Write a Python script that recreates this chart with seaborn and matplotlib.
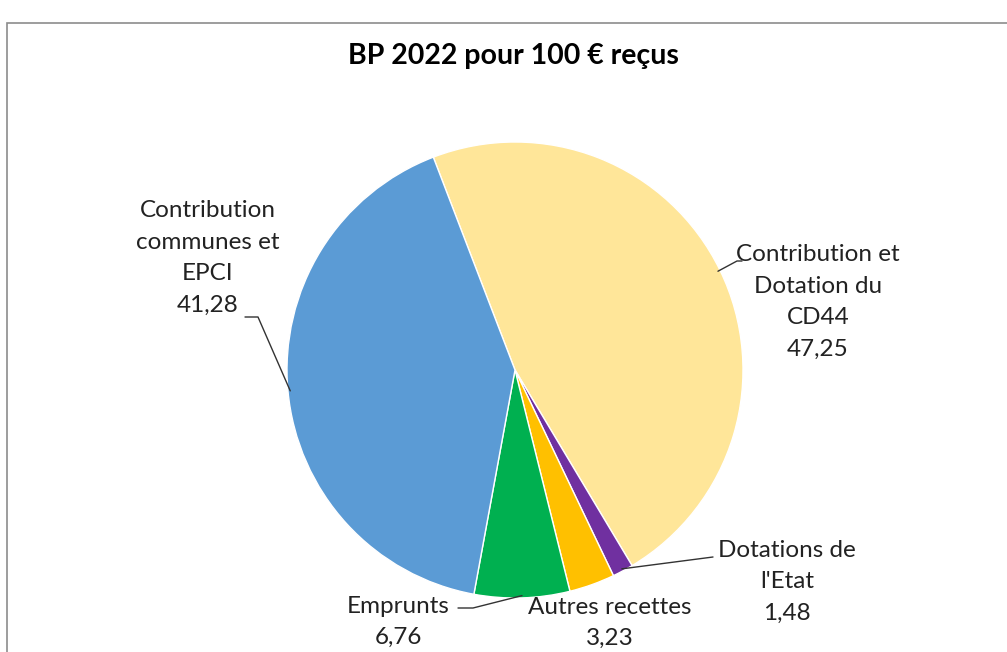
import numpy as np
import matplotlib
matplotlib.use("Agg")
import matplotlib.pyplot as plt
import seaborn as sns

# données (sens horaire à partir du haut)
categories = ["Contribution et\nDotation du\nCD44", "Dotations de\nl'Etat", "Autres recettes",
              "Emprunts", "Contribution\ncommunes et\nEPCI"]
valeurs = [47.25, 1.48, 3.23, 6.76, 41.28]
couleurs = ["#FFE699", "#7030A0", "#FFC000", "#00B050", "#5B9BD5"]
titre = "BP 2022 pour 100 € reçus"

sns.set_theme(style="white")
plt.rcParams["font.family"] = ["Lato", "DejaVu Sans"]

W, H = 1007, 652
cx, cy, R = 515, 370, 228
start = 111

fig = plt.figure(figsize=(W / 100, H / 100), dpi=100)
ax = fig.add_axes([0, 0, 1, 1])
ax.axis("off")

wedges, _ = ax.pie(valeurs, colors=couleurs, startangle=start, counterclock=False,
                   radius=1, center=(0, 0), wedgeprops=dict(edgecolor="white", linewidth=1))
ax.set_xlim(-cx / R, (W - cx) / R)
ax.set_ylim(-(H - cy) / R, cy / R)
ax.set_aspect("equal")


def px(x, y):
    return (x - cx) / R, (cy - y) / R


# angles au milieu de chaque part
cum = np.cumsum([0] + valeurs[:-1])
mid = [start - (c + v / 2) / sum(valeurs) * 360 for c, v in zip(cum, valeurs)]

# positions des étiquettes (pixels) et coudes des lignes de rappel
labels_pos = [(818, 302), (787, 582), (610, 623), (398, 622), (208, 258)]
coudes = [[(737, 261), (742, 261)], [(713, 557)], None, [(473, 608), (458, 608)],
          [(258, 317), (245, 317)]]

for i, (lab, v) in enumerate(zip(categories, valeurs)):
    txt = lab + "\n" + f"{v:.2f}".replace(".", ",")
    x, y = px(*labels_pos[i])
    ax.text(x, y, txt, ha="center", va="center", fontsize=17.5, color="#222222",
            linespacing=1.62)
    if coudes[i]:
        a = np.deg2rad(mid[i])
        pts = [(np.cos(a) * 0.99, np.sin(a) * 0.99)] + [px(*p) for p in coudes[i]]
        xs, ys = zip(*pts)
        ax.plot(xs, ys, color="#333333", lw=1)

ax.text(*px(513, 56), titre, ha="center", va="center", fontsize=20.5, fontweight="bold",
        color="black")

# cadre
ax.add_patch(plt.Rectangle(px(7, H + 10), (W + 10) / R, (H - 13) / R, fill=False,
                           edgecolor="#8c8c8c", lw=1.2, clip_on=True))

fig.savefig("out.png", dpi=100)
